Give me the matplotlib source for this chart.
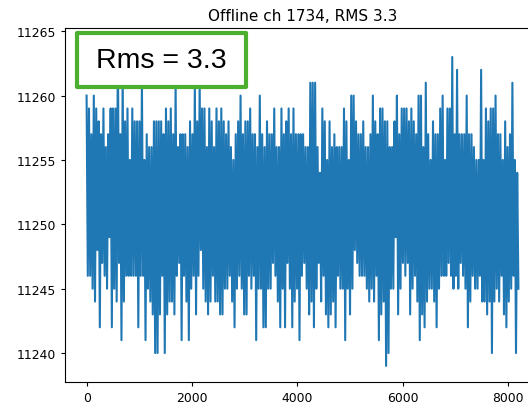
import numpy as np
import matplotlib
matplotlib.use("Agg")
import matplotlib.pyplot as plt
from matplotlib.patches import Rectangle

# Envelope of the trace (upper / lower excursions), ~45 samples each
upper = [
    11260, 11259, 11257, 11260, 11259, 11258, 11257, 11259, 11256, 11257,
    11259, 11259, 11259, 11264, 11257, 11262, 11258, 11259, 11255, 11259,
    11258, 11258, 11258, 11261, 11255, 11257, 11256, 11256, 11258, 11258,
    11258, 11258, 11257, 11259, 11258, 11259, 11257, 11261, 11256, 11257,
    11257, 11257, 11256, 11258, 11257, 11261, 11258, 11261, 11259, 11259,
    11256, 11259, 11258, 11256, 11259, 11258, 11259, 11258, 11257, 11258,
    11256, 11255, 11257, 11258, 11260, 11257, 11258, 11258, 11259, 11257,
    11257, 11256, 11260, 11257, 11256, 11258, 11257, 11257, 11259, 11256,
    11256, 11259, 11257, 11258, 11259, 11257, 11259, 11257, 11257, 11257,
    11257, 11256, 11256, 11261, 11261, 11261, 11256, 11254, 11259, 11258,
    11255, 11258, 11256, 11257, 11256, 11256, 11256, 11259, 11258, 11255,
    11260, 11260, 11258, 11257, 11257, 11258, 11256, 11256, 11257, 11260,
    11258, 11257, 11259, 11259, 11258, 11258, 11256, 11256, 11258, 11260,
    11257, 11259, 11259, 11259, 11258, 11259, 11258, 11257, 11260, 11260,
    11256, 11261, 11257, 11255, 11258, 11257, 11257, 11259, 11260, 11255,
    11259, 11259, 11263, 11257, 11262, 11257, 11257, 11257, 11260, 11257,
    11257, 11256, 11255, 11255, 11262, 11255, 11259, 11258, 11259, 11259,
    11260, 11257, 11257, 11255, 11258, 11256, 11257, 11261, 11255, 11254,
]
lower = [
    11246, 11246, 11245, 11244, 11248, 11242, 11247, 11246, 11245, 11249,
    11242, 11245, 11244, 11247, 11241, 11244, 11246, 11246, 11246, 11246,
    11246, 11242, 11246, 11246, 11241, 11245, 11244, 11243, 11240, 11240,
    11243, 11246, 11240, 11243, 11244, 11244, 11243, 11246, 11247, 11241,
    11246, 11244, 11241, 11245, 11246, 11243, 11246, 11248, 11245, 11244,
    11243, 11244, 11246, 11244, 11244, 11243, 11243, 11245, 11245, 11246,
    11244, 11242, 11245, 11246, 11245, 11243, 11243, 11246, 11245, 11246,
    11241, 11245, 11245, 11242, 11242, 11245, 11245, 11247, 11246, 11244,
    11242, 11245, 11242, 11247, 11245, 11242, 11244, 11245, 11241, 11246,
    11247, 11245, 11243, 11244, 11242, 11245, 11247, 11244, 11246, 11243,
    11242, 11243, 11244, 11242, 11246, 11245, 11245, 11241, 11245, 11243,
    11245, 11248, 11247, 11246, 11246, 11246, 11245, 11244, 11245, 11244,
    11246, 11241, 11243, 11244, 11239, 11240, 11245, 11245, 11249, 11243,
    11245, 11247, 11246, 11247, 11243, 11245, 11246, 11244, 11241, 11243,
    11242, 11244, 11245, 11245, 11244, 11242, 11245, 11246, 11246, 11246,
    11247, 11246, 11245, 11246, 11245, 11247, 11246, 11245, 11242, 11244,
    11246, 11245, 11245, 11246, 11244, 11244, 11243, 11244, 11240, 11244,
    11245, 11244, 11246, 11243, 11242, 11244, 11245, 11246, 11240, 11245,
]
n_samples = 8192
title = "Offline ch 1734, RMS 3.3"
box_text = "Rms = 3.3"

values = np.empty(2 * len(upper))
values[0::2] = upper
values[1::2] = lower
samples = np.linspace(0, n_samples - 1, len(values))

fig = plt.figure(figsize=(5.28, 4.06), dpi=100)
ax = fig.add_axes([65 / 528, 23 / 406, 475 / 528, 354 / 406])
ax.plot(samples, values, color="#1f77b4", linewidth=1.5)
ax.set_title(title, fontsize=11)
ax.tick_params(labelsize=8.9, length=3.1)
ax.set_xticks([0, 2000, 4000, 6000, 8000])
ax.set_yticks([11240, 11245, 11250, 11255, 11260, 11265])

W, H = 528, 406
rect = Rectangle((77 / W, (H - 88) / H), 169 / W, 54 / H, transform=fig.transFigure,
                 facecolor="white", edgecolor="#4caf2f", linewidth=3.0,
                 joinstyle="round", zorder=10)
fig.add_artist(rect)
fig.text(161 / W, (H - 61) / H, box_text, ha="center", va="center",
         fontsize=20.5, family=["Liberation Sans", "DejaVu Sans"], zorder=11)

fig.savefig("out.png", dpi=100)
